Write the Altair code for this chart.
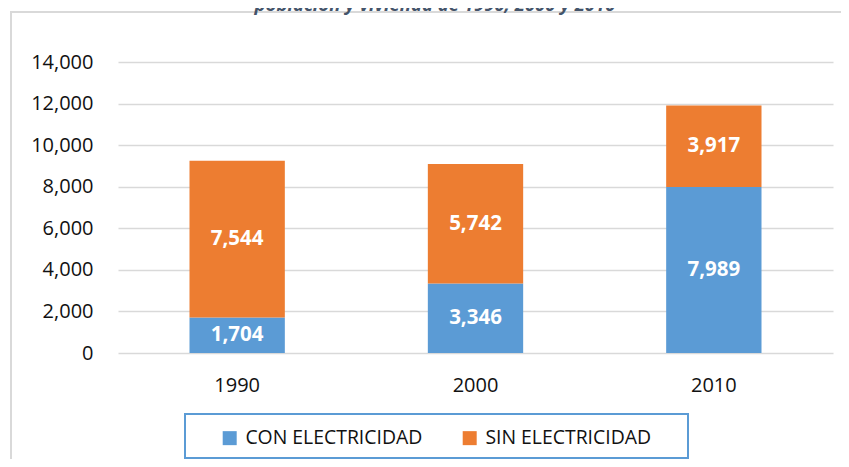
import altair as alt
import pandas as pd

years = ["1990", "2000", "2010"]
series = ["CON ELECTRICIDAD", "SIN ELECTRICIDAD"]
con_values = [1704, 3346, 7989]
sin_values = [7544, 5742, 3917]
y_ticks = [0, 2000, 4000, 6000, 8000, 10000, 12000, 14000]
title_text = "población y vivienda de 1990, 2000 y 2010"
colors = ["#5b9bd5", "#ed7d31"]

rows = []
for i, y in enumerate(years):
    rows.append({"year": y, "serie": series[0], "value": con_values[i], "ord": 0})
    rows.append({"year": y, "serie": series[1], "value": sin_values[i], "ord": 1})
df = pd.DataFrame(rows)

FONT = "Open Sans"

x_enc = alt.X(
    "year:N",
    sort=years,
    scale=alt.Scale(paddingInner=0.6, paddingOuter=0.3),
    axis=alt.Axis(
        title=None, labelAngle=0, domain=False, ticks=False, labelPadding=22,
        labelFont=FONT, labelFontSize=20, labelColor="#111111", grid=False,
    ),
)

bars = alt.Chart(df).mark_bar().encode(
    x=x_enc,
    y=alt.Y(
        "value:Q",
        stack="zero",
        scale=alt.Scale(domain=[0, 14000], nice=False),
        axis=alt.Axis(
            title=None, values=y_ticks, format=",.0f", domain=False, ticks=False,
            labelPadding=25, labelFont=FONT, labelFontSize=20, labelColor="#111111",
            gridColor="#d9d9d9", gridWidth=1.6,
        ),
    ),
    color=alt.Color(
        "serie:N",
        scale=alt.Scale(domain=series, range=colors),
        legend=alt.Legend(
            orient="none", legendX=102, legendY=366, direction="horizontal",
            title=None, symbolType="square", symbolSize=196, symbolStrokeWidth=0,
            labelFont=FONT, labelFontSize=19.4, labelColor="#111111", labelLimit=400,
            columnPadding=37, labelOffset=6, padding=0,
        ),
    ),
    order=alt.Order("ord:Q"),
)

labels = alt.Chart(df).transform_stack(
    stack="value", groupby=["year"], as_=["v0", "v1"], sort=[alt.SortField("ord")]
).transform_calculate(
    mid="(datum.v0 + datum.v1) / 2"
).mark_text(
    font=FONT, fontSize=20.5, fontWeight="bold", color="white",
    align="center", baseline="middle",
).encode(
    x=alt.X("year:N", sort=years),
    y=alt.Y("mid:Q"),
    text=alt.Text("value:Q", format=","),
)

one = pd.DataFrame({"k": [0]})

frame = alt.Chart(one).mark_rect(
    fill="transparent", stroke="#d9d9d9", strokeWidth=2
).encode(
    x=alt.value(-107), x2=alt.value(900), y=alt.value(-50), y2=alt.value(500)
)

legend_box = alt.Chart(one).mark_rect(
    fill="transparent", stroke="#5b9bd5", strokeWidth=2
).encode(
    x=alt.value(67), x2=alt.value(570), y=alt.value(352), y2=alt.value(396)
)

title = alt.Chart(one).mark_text(
    text=title_text, font=FONT, fontSize=18.5, fontStyle="italic",
    fontWeight="bold", color="#44546a", align="center", baseline="alphabetic",
).encode(x=alt.value(317), y=alt.value(-51))

chart = alt.layer(frame, title, bars, labels, legend_box).properties(
    width=715,
    height=291,
    padding={"left": 110, "top": 54, "right": 8, "bottom": 106},
    autosize=alt.AutoSizeParams(type="none"),
).configure_view(stroke=None)

chart.save("out.html", embed_options={"renderer": "svg", "actions": False})
